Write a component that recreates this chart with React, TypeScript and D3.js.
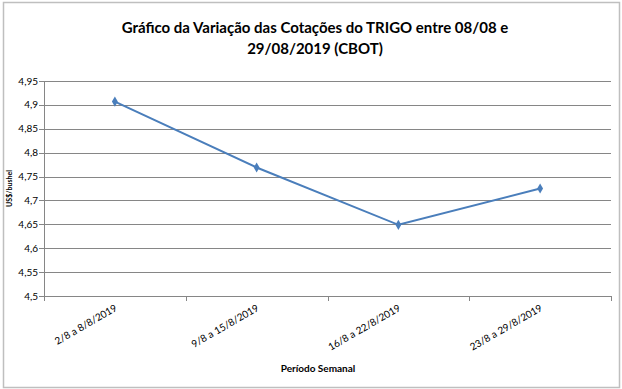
import React from "react";
import * as d3 from "d3";

const categories = ["2/8 a 8/8/2019", "9/8 a 15/8/2019", "16/8 a 22/8/2019", "23/8 a 29/8/2019"];
const values = [4.907, 4.769, 4.649, 4.725];
const yTicks = [4.5, 4.55, 4.6, 4.65, 4.7, 4.75, 4.8, 4.85, 4.9, 4.95];
const titleLines = ["Gráfico da Variação das Cotações do TRIGO entre 08/08 e", "29/08/2019 (CBOT)"];

const W = 622, H = 389;
const left = 44, right = 611, top = 81, bottom = 296;
const font = "Lato, 'Open Sans', sans-serif";

export default function App() {
  const x = d3.scaleBand<string>().domain(categories).range([left, right]);
  const y = d3.scaleLinear().domain([4.5, 4.95]).range([bottom, top]);
  const line = d3.line<number>().x((_, i) => x(categories[i])! + x.bandwidth() / 2).y((d) => y(d));
  const fmt = (v: number) => String(+v.toFixed(2)).replace(".", ",");
  const diamond = d3.symbol().type(d3.symbolDiamond).size(30)()!;
  const boundaries = [...categories.map((c) => x(c)!), right];
  return (
    <svg width={W} height={H} style={{ position: "absolute", left: 0, top: 0 }}>
      <rect x={0} y={0} width={W} height={H} fill="#fff" />
      <rect x={3.5} y={2.5} width={616} height={385} fill="none" stroke="#bfbfbf" strokeWidth={1.5} />
      {titleLines.map((t, i) => (
        <text key={i} x={315} y={33 + i * 21} textAnchor="middle" fontFamily={font} fontWeight="bold" fontSize={15} fill="#000">
          {t}
        </text>
      ))}
      {yTicks.map((t) => (
        <g key={t}>
          <line x1={left - 5} x2={right} y1={Math.round(y(t)) + 0.5} y2={Math.round(y(t)) + 0.5} stroke="#868686" strokeWidth={1} />
          <text x={left - 6} y={y(t) + 3.5} textAnchor="end" fontFamily={font} fontSize={10} fill="#000">
            {fmt(t)}
          </text>
        </g>
      ))}
      <line x1={left + 0.5} x2={left + 0.5} y1={top} y2={bottom + 5} stroke="#868686" />
      {boundaries.map((b, i) => (
        <line key={i} x1={Math.round(b) + 0.5} x2={Math.round(b) + 0.5} y1={bottom} y2={bottom + 5} stroke="#868686" />
      ))}
      {categories.map((c) => {
        const cx = x(c)! + x.bandwidth() / 2;
        return (
          <text key={c} x={cx + 3} y={bottom + 14} textAnchor="end" fontFamily={font} fontSize={10} fill="#000" transform={`rotate(-30 ${cx + 3} ${bottom + 14})`}>
            {c}
          </text>
        );
      })}
      <path d={line(values)!} fill="none" stroke="#4a7ebb" strokeWidth={2} />
      {values.map((v, i) => (
        <path key={i} d={diamond} transform={`translate(${x(categories[i])! + x.bandwidth() / 2},${y(v)})`} fill="#4a7ebb" />
      ))}
      <text x={318} y={372} textAnchor="middle" fontFamily={font} fontWeight="bold" fontSize={10} fill="#000">
        Período Semanal
      </text>
      <text x={0} y={0} transform={`translate(12,${(top + bottom) / 2}) rotate(-90)`} textAnchor="middle" fontFamily={font} fontWeight="bold" fontSize={7} fill="#000">
        US$/bushel
      </text>
    </svg>
  );
}
